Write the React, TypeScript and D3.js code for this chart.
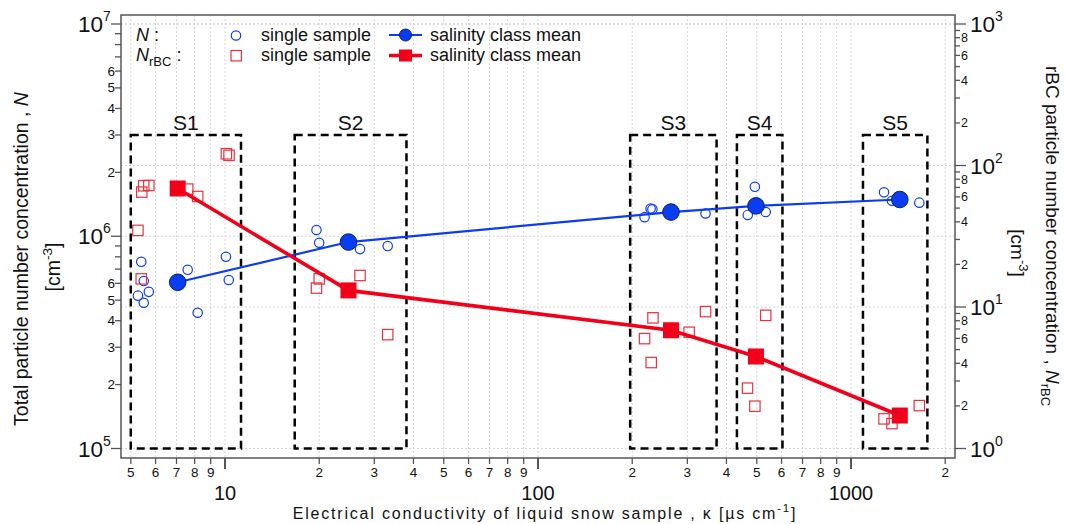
import React from "react";
import * as d3 from "d3";

// salinity classes
const classNames = ["S1", "S2", "S3", "S4", "S5"];
const classKappaMin = [5.0, 16.7, 197, 432, 1092];
const classKappaMax = [11.25, 38, 372, 604, 1754];
const classBoxTop = 3e6;
const classBoxBottom = 1e5;

// salinity class means
const meanKappa = [7.06, 24.8, 266, 497, 1432];
const meanN = [6.07e5, 9.39e5, 1.3e6, 1.39e6, 1.49e6];
const meanRbc = [68.8, 13.1, 6.85, 4.47, 1.71];

// single samples, total particle number N
const sampleNKappa = [5.27, 5.4, 5.5, 5.5, 5.71, 7.6, 8.18, 10.07, 10.28, 19.6, 20.0, 27.0, 33.1, 219, 229, 232, 343, 493, 468, 534, 1275, 1352, 1653];
const sampleN = [5.25e5, 7.58e5, 6.15e5, 4.86e5, 5.47e5, 6.95e5, 4.36e5, 8.0e5, 6.22e5, 1.07e6, 9.32e5, 8.7e5, 8.99e5, 1.23e6, 1.35e6, 1.34e6, 1.28e6, 1.71e6, 1.26e6, 1.3e6, 1.61e6, 1.47e6, 1.44e6];

// single samples, rBC particle number
const sampleRbcKappa = [10.1, 10.3, 5.5, 5.71, 5.42, 5.27, 5.4, 7.6, 8.18, 20.0, 19.6, 27.0, 33.1, 233, 219, 230, 343, 304, 534, 467, 493, 1275, 1352, 1653];
const sampleRbc = [121, 118, 71.9, 72.3, 64.9, 34.8, 15.8, 68.1, 60.4, 15.8, 13.6, 16.7, 6.38, 8.38, 5.98, 4.05, 9.28, 6.63, 8.73, 2.67, 1.99, 1.62, 1.5, 2.01];

// axis ticks
const xMinorTicks = [5, 6, 7, 8, 9, 20, 30, 40, 50, 60, 70, 80, 90, 200, 300, 400, 500, 600, 700, 800, 900, 2000];
const xMajorTicks = [10, 100, 1000];
const xMajorLabels = ["10", "100", "1000"];
const leftMajorTicks = [1e5, 1e6, 1e7];
const leftMajorExp = ["5", "6", "7"];
const leftMinorDigits = [2, 3, 4, 5, 6, 7, 8, 9];
const leftMinorLabeled = [2, 3, 4, 5, 6];
const rightMajorTicks = [1, 10, 100, 1000];
const rightMajorExp = ["0", "1", "2", "3"];
const rightMinorDigits = [2, 3, 4, 5, 6, 7, 8, 9];
const rightMinorLabeled = [2, 4, 6, 8];

const W = 1065;
const H = 524;
const plot = { left: 121, right: 955, top: 15, bottom: 458 };

const BLUE = "#0a3cf2";
const RED = "#f2001a";
const RED_LIGHT = "#e8323e";
const GRID = "#d6d6d6";
const AXIS = "#555";
const FONT = "'Liberation Sans', Arial, sans-serif";

const mantissa = (v: number) => Math.round(v / Math.pow(10, Math.floor(Math.log10(v) + 1e-9)));

export default function App() {
  const x = d3.scaleLog().domain([10, 1000]).range([225, 851]);
  const yL = d3.scaleLog().domain([1e5, 1e7]).range([448.5, 24]);
  const yR = d3.scaleLog().domain([1, 1000]).range([448.5, 24]);

  const lineN = d3
    .line<number>()
    .x((_, i) => x(meanKappa[i]))
    .y((d) => yL(d));
  const lineR = d3
    .line<number>()
    .x((_, i) => x(meanKappa[i]))
    .y((d) => yR(d));

  const leftMinor: number[] = [];
  [1e5, 1e6].forEach((dec) => leftMinorDigits.forEach((m) => leftMinor.push(dec * m)));
  const rightMinor: number[] = [];
  [1, 10, 100].forEach((dec) => rightMinorDigits.forEach((m) => rightMinor.push(dec * m)));

  const vGrid = [...xMinorTicks, ...xMajorTicks];
  const hGrid = [...leftMajorTicks.map((v) => yL(v)), ...rightMajorTicks.map((v) => yR(v))];

  return (
    <svg width={W} height={H} style={{ position: "absolute", left: 0, top: 0, background: "#fff" }} fontFamily={FONT}>
      {/* grid */}
      <g stroke={GRID} strokeWidth={1} strokeDasharray="2,2">
        {vGrid.map((v, i) => (
          <line key={"vg" + i} x1={x(v)} x2={x(v)} y1={plot.top} y2={plot.bottom} />
        ))}
        {hGrid.map((y, i) => (
          <line key={"hg" + i} x1={plot.left} x2={plot.right} y1={y} y2={y} />
        ))}
      </g>

      {/* frame */}
      <rect x={plot.left} y={plot.top} width={plot.right - plot.left} height={plot.bottom - plot.top} fill="none" stroke={AXIS} strokeWidth={1.5} />

      {/* bottom axis */}
      <g stroke={AXIS} strokeWidth={1.3}>
        {xMinorTicks.map((v, i) => (
          <line key={"xt" + i} x1={x(v)} x2={x(v)} y1={plot.bottom} y2={plot.bottom + 6} />
        ))}
        {xMajorTicks.map((v, i) => (
          <line key={"xM" + i} x1={x(v)} x2={x(v)} y1={plot.bottom} y2={plot.bottom + 11} strokeWidth={2} />
        ))}
      </g>
      <g fontSize={13.5} textAnchor="middle" fill="#111">
        {xMinorTicks.map((v, i) => (
          <text key={"xl" + i} x={x(v)} y={477}>
            {String(v)[0]}
          </text>
        ))}
      </g>
      <g fontSize={20} textAnchor="middle" fill="#111">
        {xMajorTicks.map((v, i) => (
          <text key={"xML" + i} x={x(v)} y={500}>
            {xMajorLabels[i]}
          </text>
        ))}
      </g>
      <text x={545} y={519} fontSize={16} letterSpacing={1.8} textAnchor="middle" fill="#111">
        Electrical conductivity of liquid snow sample , κ [µs cm
        <tspan dy={-7} fontSize={11.5}>-1</tspan>
        <tspan dy={7}>]</tspan>
      </text>

      {/* left axis */}
      <g stroke={AXIS} strokeWidth={1.3}>
        {leftMinor.map((v, i) => (
          <line key={"lt" + i} x1={plot.left - 6} x2={plot.left} y1={yL(v)} y2={yL(v)} />
        ))}
        {leftMajorTicks.map((v, i) => (
          <line key={"lM" + i} x1={plot.left - 10} x2={plot.left} y1={yL(v)} y2={yL(v)} />
        ))}
      </g>
      <g fontSize={13.5} textAnchor="end" fill="#111">
        {leftMinor
          .filter((v) => leftMinorLabeled.includes(mantissa(v)))
          .map((v, i) => (
            <text key={"ll" + i} x={plot.left - 6} y={yL(v) + 4.5}>
              {mantissa(v)}
            </text>
          ))}
      </g>
      <g fill="#111">
        {leftMajorTicks.map((v, i) => (
          <text key={"lML" + i} x={78} y={yL(v) + 8} fontSize={22.5}>
            10
            <tspan dy={-11} fontSize={14}>
              {leftMajorExp[i]}
            </tspan>
          </text>
        ))}
      </g>
      <text transform="translate(28,259) rotate(-90)" fontSize={19.5} textAnchor="middle" fill="#111">
        Total particle number concentration , <tspan fontStyle="italic">N</tspan>
      </text>
      <text transform="translate(60,267) rotate(-90)" fontSize={19.5} textAnchor="middle" fill="#111">
        [cm<tspan dy={-8} fontSize={13.5}>-3</tspan>
        <tspan dy={8}>]</tspan>
      </text>

      {/* right axis */}
      <g stroke={AXIS} strokeWidth={1.3}>
        {rightMinor.map((v, i) => (
          <line key={"rt" + i} x1={plot.right} x2={plot.right + 5} y1={yR(v)} y2={yR(v)} />
        ))}
        {rightMajorTicks.map((v, i) => (
          <line key={"rM" + i} x1={plot.right} x2={plot.right + 11} y1={yR(v)} y2={yR(v)} />
        ))}
      </g>
      <g fontSize={12.5} textAnchor="start" fill="#111">
        {rightMinor
          .filter((v) => rightMinorLabeled.includes(mantissa(v)))
          .map((v, i) => (
            <text key={"rl" + i} x={plot.right + 6} y={yR(v) + 4.5}>
              {mantissa(v)}
            </text>
          ))}
      </g>
      <g fill="#111">
        {rightMajorTicks.map((v, i) => (
          <text key={"rML" + i} x={plot.right + 15} y={yR(v) + 8} fontSize={22.5}>
            10
            <tspan dy={-11} fontSize={14}>
              {rightMajorExp[i]}
            </tspan>
          </text>
        ))}
      </g>
      <text transform="translate(1046,236) rotate(90)" fontSize={19} textAnchor="middle" fill="#111">
        rBC particle number concentration , <tspan fontStyle="italic">N</tspan>
        <tspan dy={5} fontSize={13}>rBC</tspan>
      </text>
      <text transform="translate(1011,253) rotate(90)" fontSize={19} textAnchor="middle" fill="#111">
        [cm<tspan dy={-8} fontSize={13}>-3</tspan>
        <tspan dy={8}>]</tspan>
      </text>

      {/* salinity class boxes */}
      <g fill="none" stroke="#000" strokeWidth={2.5} strokeDasharray="8,5">
        {classNames.map((c, i) => (
          <rect
            key={c}
            x={x(classKappaMin[i])}
            y={yL(classBoxTop)}
            width={x(classKappaMax[i]) - x(classKappaMin[i])}
            height={yL(classBoxBottom) - yL(classBoxTop)}
          />
        ))}
      </g>
      <g fontSize={21} textAnchor="middle" fill="#111">
        {classNames.map((c, i) => (
          <text key={"cl" + c} x={(x(classKappaMin[i]) + x(classKappaMax[i])) / 2} y={yL(classBoxTop) - 5}>
            {c}
          </text>
        ))}
      </g>

      {/* single samples */}
      <g fill="none" stroke={BLUE} strokeWidth={1.2}>
        {sampleN.map((v, i) => (
          <circle key={"sn" + i} cx={x(sampleNKappa[i])} cy={yL(v)} r={4.7} />
        ))}
      </g>
      <g fill="none" stroke={RED_LIGHT} strokeWidth={1.2}>
        {sampleRbc.map((v, i) => (
          <rect key={"sr" + i} x={x(sampleRbcKappa[i]) - 5.2} y={yR(v) - 5.2} width={10.4} height={10.4} />
        ))}
      </g>

      {/* class means */}
      <path d={lineN(meanN) || ""} fill="none" stroke={BLUE} strokeWidth={2.2} />
      <path d={lineR(meanRbc) || ""} fill="none" stroke={RED} strokeWidth={3.6} />
      {meanN.map((v, i) => (
        <circle key={"mn" + i} cx={x(meanKappa[i])} cy={yL(v)} r={8.3} fill={BLUE} stroke="#05206e" strokeWidth={1} />
      ))}
      {meanRbc.map((v, i) => (
        <rect key={"mr" + i} x={x(meanKappa[i]) - 8} y={yR(v) - 8} width={16} height={16} fill={RED} />
      ))}

      {/* legend */}
      <g fontSize={18} fill="#111">
        <text x={136} y={41}>
          <tspan fontStyle="italic">N</tspan> :
        </text>
        <text x={136} y={61}>
          <tspan fontStyle="italic">N</tspan>
          <tspan dy={5} fontSize={13}>rBC</tspan>
          <tspan dy={-5}> :</tspan>
        </text>
        <circle cx={236} cy={35.5} r={4.7} fill="none" stroke={BLUE} strokeWidth={1.2} />
        <rect x={231} y={50.5} width={10.4} height={10.4} fill="none" stroke={RED_LIGHT} strokeWidth={1.2} />
        <text x={261} y={41}>single sample</text>
        <text x={261} y={61}>single sample</text>
        <line x1={389} x2={422} y1={35} y2={35} stroke={BLUE} strokeWidth={2.2} />
        <circle cx={405.5} cy={35} r={6} fill={BLUE} stroke="#05206e" strokeWidth={1} />
        <line x1={389} x2={422} y1={55.5} y2={55.5} stroke={RED} strokeWidth={3.6} />
        <rect x={399} y={49.5} width={13} height={12} fill={RED} />
        <text x={430} y={41}>salinity class mean</text>
        <text x={430} y={61}>salinity class mean</text>
      </g>
    </svg>
  );
}
